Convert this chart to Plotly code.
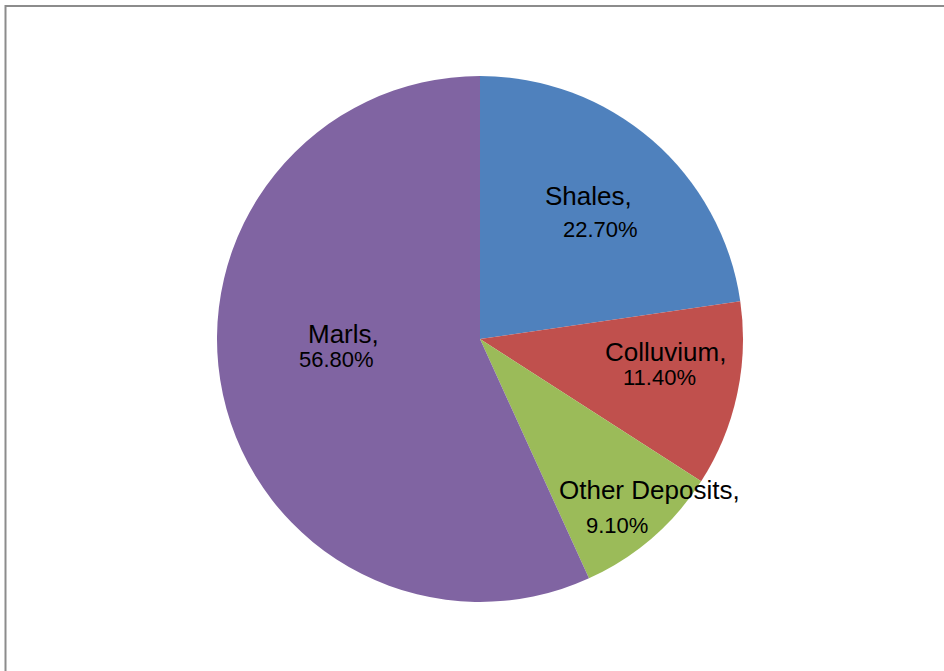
import plotly.graph_objects as go

labels = ["Shales", "Colluvium", "Other Deposits", "Marls"]
values = [22.7, 11.4, 9.1, 56.8]
colors = ["#4F81BD", "#C0504D", "#9BBB59", "#8064A2"]

W, H = 944, 671

# label anchor positions (pixel centres) for name line and percent line
name_pos = [(588, 196), (665, 352), (649, 490), (343, 334)]
pct_pos = [(600, 229), (659, 378), (617, 525), (336, 359)]

fig = go.Figure(go.Pie(
    labels=labels,
    values=values,
    marker=dict(colors=colors, line=dict(width=0)),
    sort=False,
    direction="clockwise",
    rotation=0,
    textinfo="none",
    hoverinfo="label+percent",
    showlegend=False,
    domain=dict(x=[217 / W, 743 / W], y=[1 - 602 / H, 1 - 76 / H]),
))

font_family = "Liberation Sans, Arial, sans-serif"
annotations = []
for lab, v, (nx, ny), (px, py) in zip(labels, values, name_pos, pct_pos):
    annotations.append(dict(
        text=f"{lab},", x=nx / W, y=1 - ny / H, xref="paper", yref="paper",
        xanchor="center", yanchor="middle", showarrow=False,
        font=dict(family=font_family, size=26, color="#000000"),
    ))
    annotations.append(dict(
        text=f"{v:.2f}%", x=px / W, y=1 - py / H, xref="paper", yref="paper",
        xanchor="center", yanchor="middle", showarrow=False,
        font=dict(family=font_family, size=22, color="#000000"),
    ))

fig.update_layout(
    width=W, height=H,
    margin=dict(l=0, r=0, t=0, b=0),
    paper_bgcolor="#FFFFFF",
    plot_bgcolor="#FFFFFF",
    annotations=annotations,
    shapes=[dict(
        type="rect", xref="paper", yref="paper",
        x0=5.5 / W, x1=1.05, y0=-0.05, y1=1 - 6 / H,
        line=dict(color="#8C8C8C", width=2),
    )],
)

fig.write_html(
    "out.html",
    config={"displayModeBar": False},
    post_script="document.body.style.margin='0';document.body.style.overflow='hidden';",
)
